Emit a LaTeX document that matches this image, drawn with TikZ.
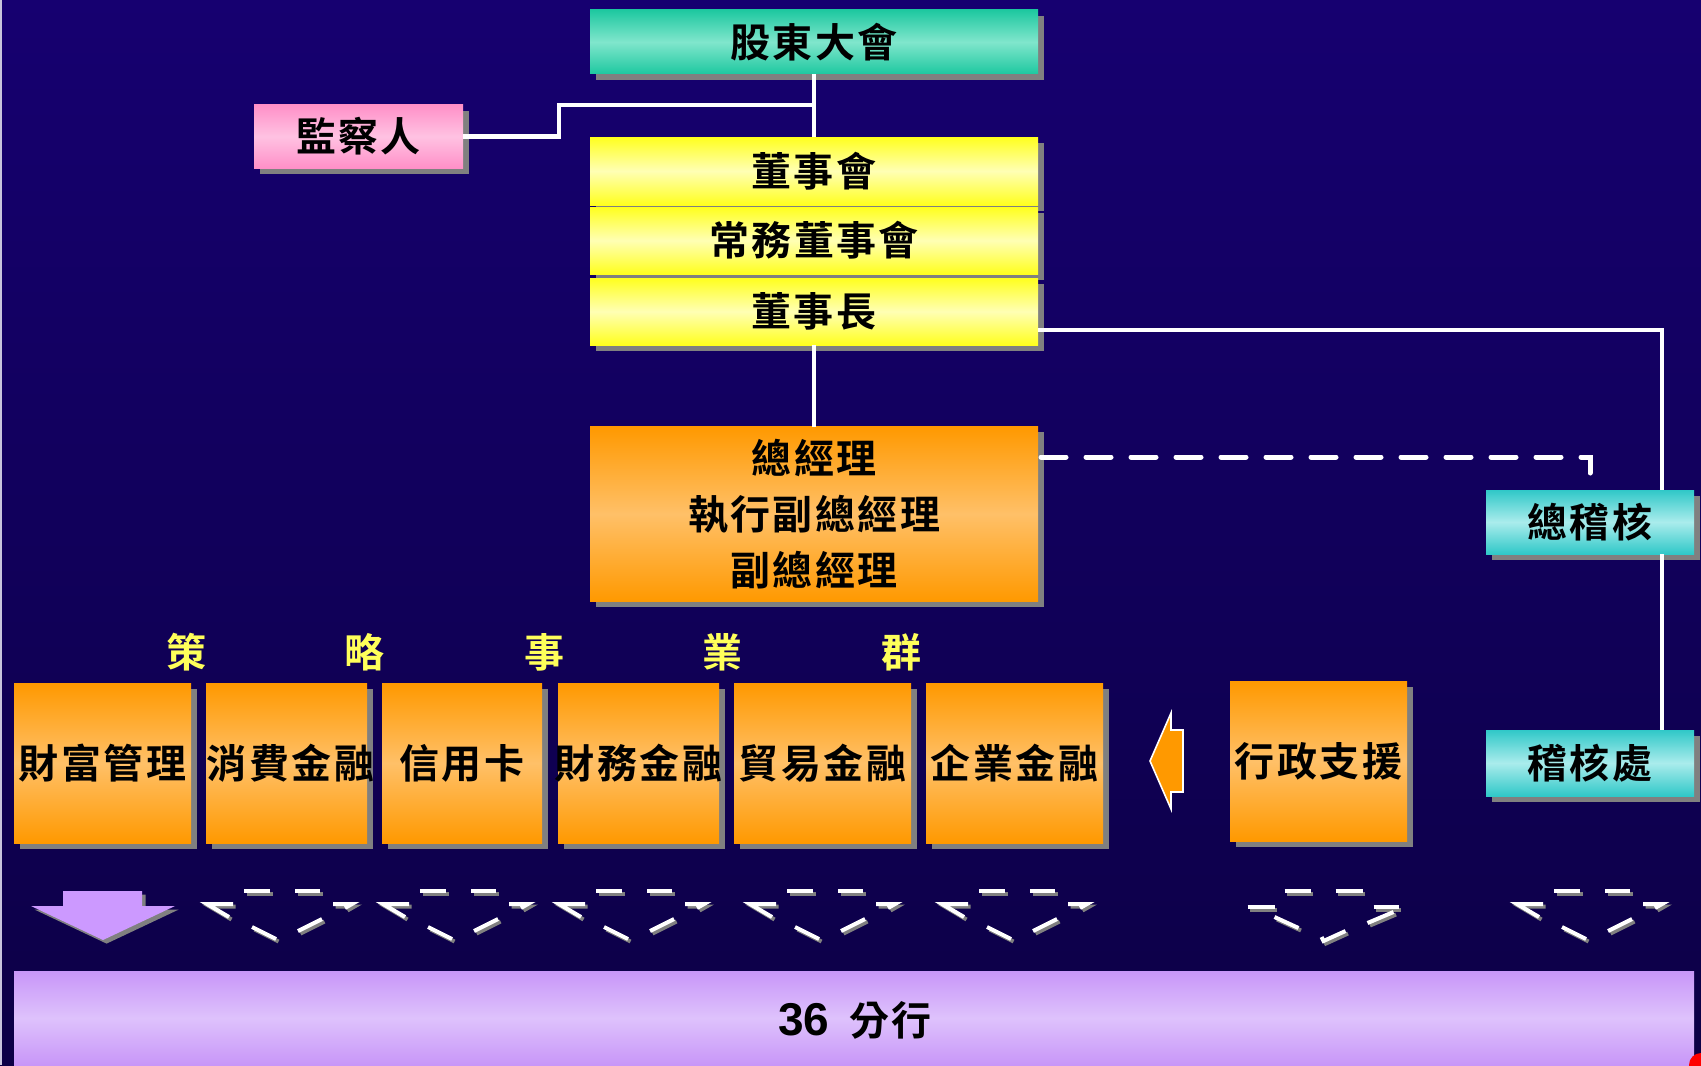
\documentclass[tikz,border=0pt]{standalone}
\usepackage{fontspec}
\setmainfont{Liberation Sans}
\newfontfamily\cjk{Noto Sans CJK TC}[BoldFont={Noto Sans CJK TC Bold}]
\newfontfamily\cjksp{Noto Sans CJK TC}[BoldFont={Noto Sans CJK TC Bold},LetterSpace=6]
\usetikzlibrary{shadows}
\definecolor{bgtop}{RGB}{22,0,112}
\definecolor{bgbot}{RGB}{12,0,70}
\definecolor{tealE}{RGB}{30,200,160}
\definecolor{tealM}{RGB}{128,230,204}
\definecolor{pinkE}{RGB}{255,144,200}
\definecolor{pinkM}{RGB}{255,194,226}
\definecolor{yelE}{RGB}{255,255,30}
\definecolor{yelM}{RGB}{255,255,180}
\definecolor{oraE}{RGB}{255,153,0}
\definecolor{oraM}{RGB}{255,192,104}
\definecolor{cyaE}{RGB}{48,200,200}
\definecolor{cyaM}{RGB}{170,236,236}
\definecolor{purE}{RGB}{200,150,248}
\definecolor{purM}{RGB}{222,194,252}
\definecolor{purA}{RGB}{204,153,255}
\definecolor{shd}{RGB}{128,128,128}
\definecolor{labY}{RGB}{255,255,90}
\definecolor{edgeL}{RGB}{200,196,220}
\tikzset{
  box/.style={draw=none, inner sep=0pt, outer sep=0pt,
    drop shadow={shadow xshift=2.8pt, shadow yshift=-2.8pt, fill=shd, opacity=1},
    font=\cjksp\bfseries\fontsize{20}{24}\selectfont, text=black},
  tealbox/.style={box, top color=tealE, bottom color=tealE, middle color=tealM},
  pinkbox/.style={box, top color=pinkE, bottom color=pinkE, middle color=pinkM},
  yelbox/.style={box, top color=yelE, bottom color=yelE, middle color=yelM},
  orabox/.style={box, top color=oraE, bottom color=oraE, middle color=oraM},
  cyabox/.style={box, top color=cyaE, bottom color=cyaE, middle color=cyaM},
  unit/.style={orabox, minimum height=80pt},
  wline/.style={draw=white, line width=2.2pt},
  dline/.style={draw=white, line width=2.5pt, line cap=round, dash pattern=on 12.5pt off 10pt},
  grouplab/.style={text=labY, font=\cjk\bfseries\fontsize{20}{20}\selectfont, inner sep=0pt},
  chw/.style={draw=white, line width=2pt},
  chs/.style={draw=shd, line width=2pt},
}
% standard dashed arrow outline, centred at x=#1
\newcommand\chevA[1]{%
  \foreach \col/\dx/\dy in {chs/2.5/2.5, chw/0/0}{
    \begin{scope}[shift={(\dx,\dy)}]
    \draw[\col] ({#1-36},891) -- ({#1-10},891);
    \draw[\col] ({#1+15},891) -- ({#1+40},891);
    \draw[\col] ({#1-51},917) -- ({#1-73},904) -- ({#1-47},904);
    \draw[\col] ({#1+53},904) -- ({#1+72},904) -- ({#1+65},908);
    \draw[\col] ({#1-28},927) -- ({#1-4},939);
    \draw[\col] ({#1+18},931) -- ({#1+42},919);
    \end{scope}}}
% variant used under the administration box
\newcommand\chevB[1]{%
  \foreach \col/\dx/\dy in {chs/2.5/2.5, chw/0/0}{
    \begin{scope}[shift={(\dx,\dy)}]
    \draw[\col] ({#1-34},891) -- ({#1-8},891);
    \draw[\col] ({#1+17},891) -- ({#1+44},891);
    \draw[\col] ({#1-71},907) -- ({#1-44},907);
    \draw[\col] ({#1+55},907) -- ({#1+80},907);
    \draw[\col] ({#1+49},923) -- ({#1+75},912);
    \draw[\col] ({#1-44},917) -- ({#1-20},928);
    \draw[\col] ({#1+3},937) -- ({#1+5},941) -- ({#1+27},931);
    \end{scope}}}
\begin{document}
\begin{tikzpicture}[x=0.5pt,y=-0.5pt]
\useasboundingbox (0,0) rectangle (1701,1065);
\fill[top color=bgtop, bottom color=bgbot] (0,0) rectangle (1701,1065);
\fill[edgeL] (0,0) rectangle (2,1065);

% top structure
\node[tealbox, minimum width=224pt, minimum height=32pt] (gm) at (814,42) {股東大會};
\node[pinkbox, minimum width=104.5pt, minimum height=31.5pt] (jc) at (358.5,136.5) {監察人};
\node[yelbox, minimum width=224pt, minimum height=34pt] (bd) at (814,171) {董事會};
\node[yelbox, minimum width=224pt, minimum height=33.5pt] (ex) at (814,240.5) {常務董事會};
\node[yelbox, minimum width=224pt, minimum height=33.5pt] (ch) at (814,311.5) {董事長};
\node[orabox, minimum width=224pt, minimum height=87.5pt, align=center,
      font=\cjksp\bfseries\fontsize{20}{28}\selectfont] (gmgr) at (814,514)
      {總經理\\執行副總經理\\副總經理};
\node[cyabox, minimum width=104pt, minimum height=32pt] (aud) at (1590,522) {總稽核};
\node[cyabox, minimum width=104pt, minimum height=33pt] (audo) at (1590,763) {稽核處};

% group label
\node[grouplab] (g1) at (186,652) {策};
\node[grouplab] (g2) at (364,652) {略};
\node[grouplab] (g3) at (544,652) {事};
\node[grouplab] (g4) at (722,652) {業};
\node[grouplab] (g5) at (901,652) {群};

% business units
\node[unit, minimum width=88.5pt] (u1) at (102.5,763) {\makebox[0pt]{財富管理}};
\node[unit, minimum width=80.5pt] (u2) at (286.5,763) {\makebox[0pt]{\hspace{4pt}消費金融}};
\node[unit, minimum width=80pt]   (u3) at (462,763)   {\makebox[0pt]{信用卡}};
\node[unit, minimum width=80.5pt] (u4) at (638.5,763) {\makebox[0pt]{財務金融}};
\node[unit, minimum width=88.5pt] (u5) at (822.5,763) {\makebox[0pt]{貿易金融}};
\node[unit, minimum width=88.5pt] (u6) at (1014.5,763) {\makebox[0pt]{企業金融}};
\node[unit, minimum width=88.5pt] (u7) at (1318.5,761) {\makebox[0pt]{行政支援}};

% connectors
\coordinate (j1) at (559,105);
\draw[wline] (gm.south) -- (bd.north);
\draw[wline] (jc.east) -| (j1) -- (gm.south |- j1);
\draw[wline] (ch.south) -- (gmgr.north);
\coordinate (r1) at (1662,330);
\draw[wline] (ch.east |- r1) -- (r1) -- (r1 |- aud.north);
\draw[wline] (r1 |- aud.south) -- (r1 |- audo.north);
\coordinate (d1) at (1590,457);
\draw[dline] ([xshift=1.5pt]gmgr.east |- d1) -- (d1) -- (aud.north);

% orange left arrow
\filldraw[fill=oraE, draw=white, line width=0.8pt]
  (1150,761) -- (1171,713) -- (1171,730) -- (1183,730) -- (1183,792)
  -- (1171,792) -- (1171,809) -- cycle;

% purple down arrow
\fill[purA, drop shadow={shadow xshift=1.8pt, shadow yshift=-1.8pt, fill=shd, opacity=1}]
  (63,891) -- (142,891) -- (142,906) -- (175,906) -- (103,940) -- (31,906) -- (63,906) -- cycle;

% dashed arrow outlines
\chevA{280}
\chevA{456}
\chevA{632}
\chevA{823}
\chevA{1015}
\chevB{1318.5}
\chevA{1590}

% branches bar
\node[draw=none, inner sep=0pt, minimum width=840pt, minimum height=47pt,
      top color=purE, bottom color=purE, middle color=purM] (br) at (854,1018) {};
\node[inner sep=0pt] (brt) at (855,1020)
  {\bfseries\fontsize{23}{23}\selectfont 36\hspace{10pt}{\cjksp\fontsize{20}{20}\selectfont 分行}};

\fill[red] (1701,1065) circle (6pt);
\end{tikzpicture}
\end{document}
